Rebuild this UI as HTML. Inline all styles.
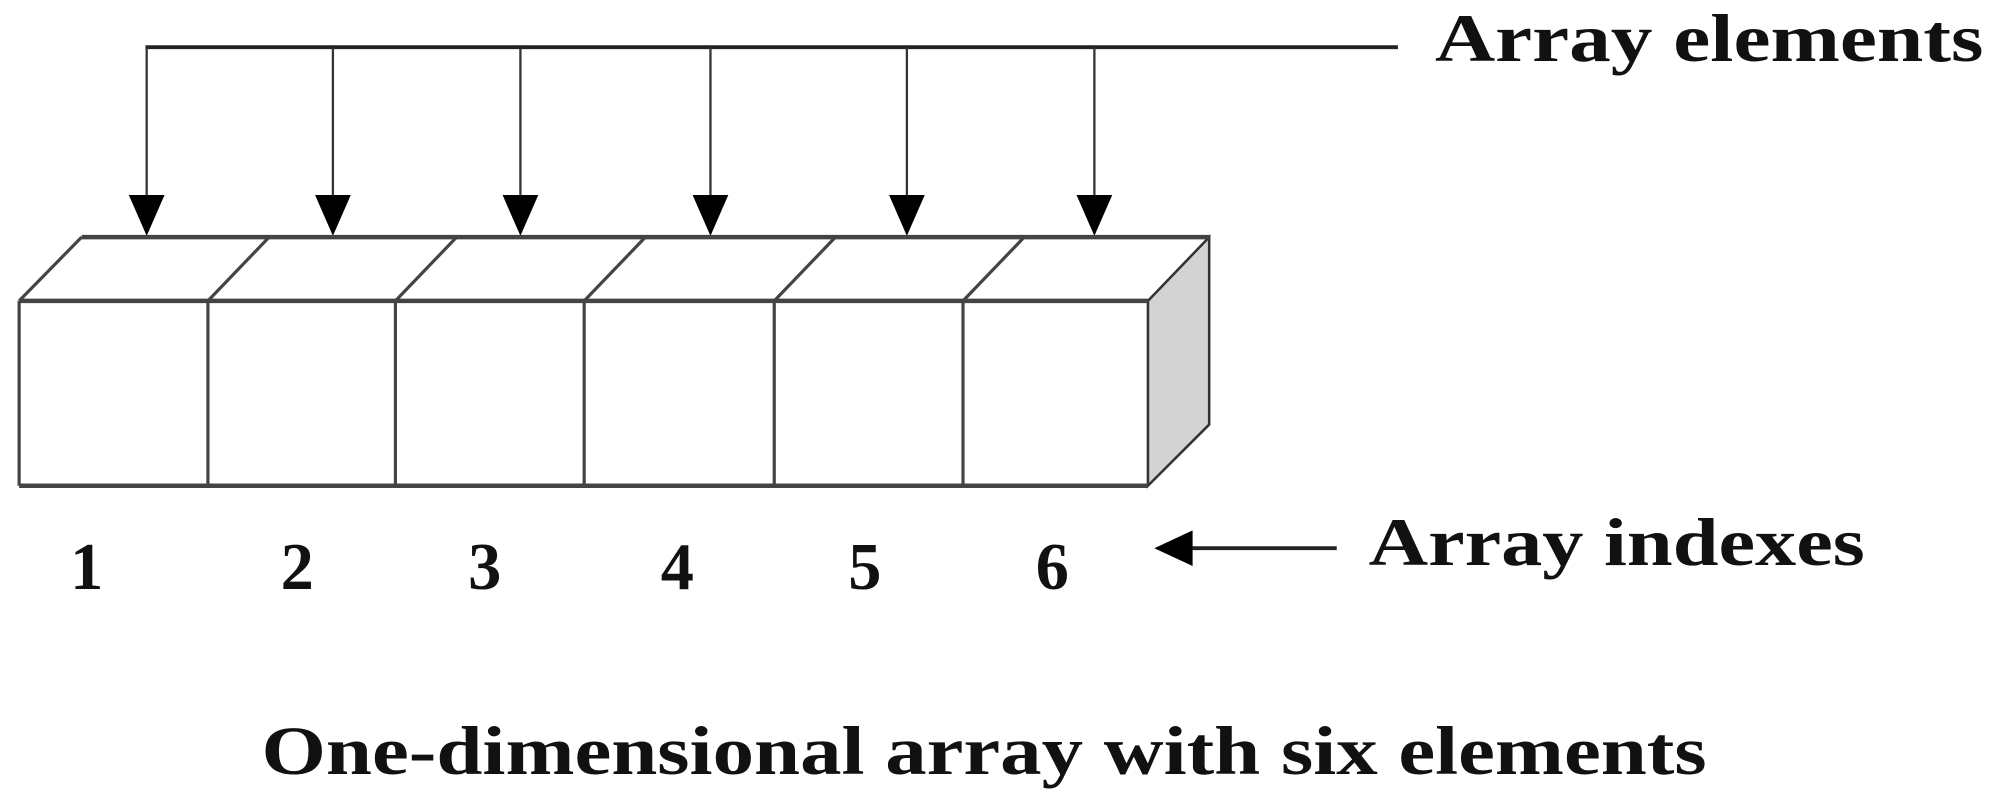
<!DOCTYPE html>
<html><head><meta charset="utf-8"><style>html,body{margin:0;padding:0;background:#fff;}svg{display:block}</style></head>
<body>
<svg width="2000" height="807" viewBox="0 0 1568 633" preserveAspectRatio="none" xmlns="http://www.w3.org/2000/svg">
<g font-family="Liberation Serif, serif" font-weight="bold" fill="#111">
<line x1="114" y1="37" x2="1096" y2="37" stroke="#222" stroke-width="3"/>
<text x="1125" y="48" font-size="53" textLength="430" lengthAdjust="spacingAndGlyphs">Array elements</text>
<g stroke="#333" stroke-width="1.8">
<line x1="115" y1="37" x2="115" y2="160"/>
<line x1="261" y1="37" x2="261" y2="160"/>
<line x1="408" y1="37" x2="408" y2="160"/>
<line x1="557" y1="37" x2="557" y2="160"/>
<line x1="711" y1="37" x2="711" y2="160"/>
<line x1="858" y1="37" x2="858" y2="160"/>
</g>
<g fill="#000">
<polygon points="101,153 129,153 115,185"/>
<polygon points="247,153 275,153 261,185"/>
<polygon points="394,153 422,153 408,185"/>
<polygon points="543,153 571,153 557,185"/>
<polygon points="697,153 725,153 711,185"/>
<polygon points="844,153 872,153 858,185"/>
</g>
<polygon points="900,236 948,186 948,333 900,381" fill="#d3d3d3" stroke="#333" stroke-width="2"/>
<g stroke="#444" stroke-width="2.5" fill="none">
<line x1="64" y1="186" x2="948" y2="186" stroke-width="3.5"/>
<line x1="15" y1="236" x2="900" y2="236" stroke-width="3.5"/>
<line x1="15" y1="381" x2="900" y2="381" stroke-width="3.5"/>
<line x1="15" y1="236" x2="15" y2="381"/>
<line x1="15" y1="236" x2="64" y2="186"/>
<line x1="163" y1="236" x2="163" y2="381"/>
<line x1="163" y1="236" x2="211" y2="186"/>
<line x1="310" y1="236" x2="310" y2="381"/>
<line x1="310" y1="236" x2="358" y2="186"/>
<line x1="458" y1="236" x2="458" y2="381"/>
<line x1="458" y1="236" x2="506" y2="186"/>
<line x1="607" y1="236" x2="607" y2="381"/>
<line x1="607" y1="236" x2="655" y2="186"/>
<line x1="755" y1="236" x2="755" y2="381"/>
<line x1="755" y1="236" x2="803" y2="186"/>
</g>
<g font-size="52" text-anchor="middle">
<text x="68" y="462">1</text>
<text x="233" y="462">2</text>
<text x="380" y="462">3</text>
<text x="531" y="462">4</text>
<text x="678" y="462">5</text>
<text x="825" y="462">6</text>
</g>
<line x1="930" y1="430" x2="1048" y2="430" stroke="#222" stroke-width="3"/>
<polygon points="905,430 935,416 935,444" fill="#000"/>
<text x="1073" y="443" font-size="53" textLength="389" lengthAdjust="spacingAndGlyphs">Array indexes</text>
<text x="205" y="607" font-size="54" textLength="1133" lengthAdjust="spacingAndGlyphs">One-dimensional array with six elements</text>
</g>
</svg>
</body></html>
